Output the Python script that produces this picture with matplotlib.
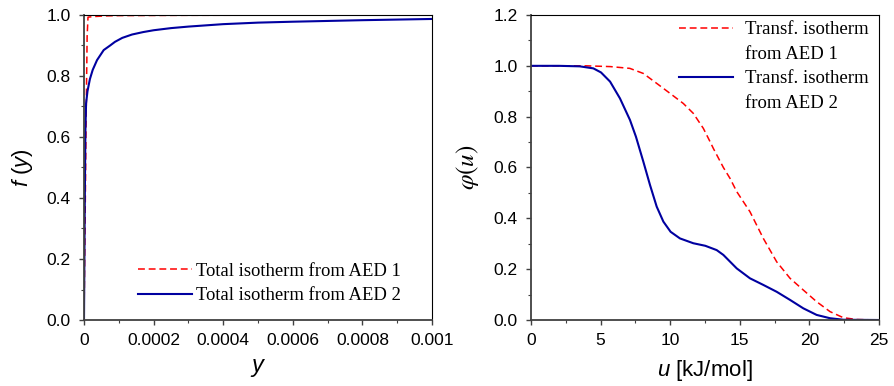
import matplotlib
matplotlib.use("Agg")
import matplotlib.pyplot as plt
from matplotlib.lines import Line2D
from matplotlib.ticker import MultipleLocator, FuncFormatter

plt.rcParams['font.family'] = ['Liberation Sans', 'DejaVu Sans']
plt.rcParams['mathtext.fontset'] = 'custom'
plt.rcParams['mathtext.it'] = 'Liberation Sans:italic'
plt.rcParams['mathtext.rm'] = 'Liberation Sans'

# left panel: total isotherms f(y)
y_aed1 = [0, 0.000003, 0.000006, 0.000009, 0.0000115, 0.00003, 0.00006, 0.0001, 0.0003, 0.001]
f_aed1 = [0, 0.30, 0.65, 0.93, 0.993, 0.995, 0.997, 0.998, 0.999, 1.0]

y_aed2 = [0, 0.000002, 0.000004, 0.000006, 0.00001, 0.000017, 0.000025, 0.0000374, 0.0000566,
          0.000075, 0.000089, 0.00011, 0.000138, 0.00017, 0.0002, 0.00025, 0.0003, 0.0004,
          0.0005, 0.0006, 0.0008, 0.001]
f_aed2 = [0, 0.35, 0.62, 0.71, 0.75, 0.79, 0.82, 0.852, 0.885,
          0.90, 0.912, 0.925, 0.936, 0.944, 0.950, 0.957, 0.962, 0.970,
          0.975, 0.978, 0.983, 0.987]

# right panel: transformed isotherms phi(u)
u_aed1 = [0, 2, 4, 5.7, 7.1, 8.07, 9.03, 9.98, 10.94, 11.66, 12.38, 12.86, 13.1, 13.82, 14.3,
          14.78, 15.73, 16.69, 17.65, 18.61, 19.56, 20.52, 21.48, 22.44, 23.4, 25]
phi_aed1 = [1.0, 1.0, 1.0, 0.997, 0.990, 0.970, 0.931, 0.892, 0.852, 0.813, 0.754, 0.702, 0.675,
            0.600, 0.557, 0.505, 0.426, 0.321, 0.229, 0.164, 0.118, 0.072, 0.033, 0.009, 0.002, 0.0]

u_aed2 = [0, 2, 3.5, 4.48, 5.03, 5.68, 6.39, 7.11, 7.54, 8.07, 8.55, 9.03, 9.51, 10.03, 10.7,
          11.66, 12.52, 13.34, 13.82, 14.78, 15.73, 16.69, 17.65, 18.61, 19.56, 20.52, 21.48,
          22.44, 25]
phi_aed2 = [1.0, 1.0, 0.998, 0.990, 0.974, 0.938, 0.872, 0.787, 0.721, 0.623, 0.531, 0.446, 0.387,
            0.347, 0.321, 0.302, 0.292, 0.275, 0.256, 0.203, 0.164, 0.138, 0.111, 0.079, 0.046,
            0.020, 0.007, 0.001, 0.0]

red = '#ff0000'
blue = '#0000a0'
dash = (0, (4.5, 2.5))

fig = plt.figure(figsize=(8.94, 3.86), dpi=100)
W, H = 894, 386
ax1 = fig.add_axes([84 / W, 1 - 320 / H, 348 / W, 305 / H])
ax2 = fig.add_axes([531 / W, 1 - 320 / H, 348 / W, 305 / H])

ax1.plot(y_aed1, f_aed1, color=red, ls=dash, lw=1.1, label='Total isotherm from AED 1')
ax1.plot(y_aed2, f_aed2, color=blue, lw=1.5, label='Total isotherm from AED 2')
ax1.set_xlim(0, 0.001)
ax1.set_ylim(0, 1.0)
ax1.xaxis.set_major_locator(MultipleLocator(0.0002))
ax1.xaxis.set_minor_locator(MultipleLocator(0.0001))
ax1.xaxis.set_major_formatter(FuncFormatter(lambda v, p: '%g' % round(v, 6)))
ax1.yaxis.set_major_locator(MultipleLocator(0.2))
ax1.yaxis.set_minor_locator(MultipleLocator(0.1))
ax1.yaxis.set_major_formatter(FuncFormatter(lambda v, p: '%.1f' % v))
ax1.set_xlabel(r'$y$', fontsize=17, va='center')
ax1.xaxis.set_label_coords(0.5, -0.157)
ax1.set_ylabel(r'$f\ (y)$', fontsize=16, va='center')
ax1.yaxis.set_label_coords(-0.178, 0.5)
leg1 = ax1.legend(loc='center left', bbox_to_anchor=(0.155, 0.12), frameon=False,
                  prop={'family': 'Liberation Serif', 'size': 13.4},
                  handlelength=2.9, handletextpad=0.2, borderaxespad=0, borderpad=0,
                  labelspacing=0.4)

ax2.plot(u_aed1, phi_aed1, color=red, ls=dash, lw=1.1)
ax2.plot(u_aed2, phi_aed2, color=blue, lw=1.5)
ax2.set_xlim(0, 25)
ax2.set_ylim(0, 1.2)
ax2.xaxis.set_major_locator(MultipleLocator(5))
ax2.xaxis.set_minor_locator(MultipleLocator(2.5))
ax2.yaxis.set_major_locator(MultipleLocator(0.2))
ax2.yaxis.set_minor_locator(MultipleLocator(0.1))
ax2.yaxis.set_major_formatter(FuncFormatter(lambda v, p: '%.1f' % v))
ax2.set_xlabel(r'$u$ [kJ/mol]', fontsize=16, va='center')
ax2.xaxis.set_label_coords(0.5, -0.164)
ax2.set_ylabel(r'$\varphi(u)$', fontsize=18, va='center', math_fontfamily='stix')
ax2.yaxis.set_label_coords(-0.182, 0.5)

# two-line legend entries, handle next to the first line
blank = Line2D([], [], color='none')
handles2 = [Line2D([], [], color=red, ls=dash, lw=1.1), blank,
            Line2D([], [], color=blue, lw=1.5), blank]
labels2 = ['Transf. isotherm', 'from AED 1', 'Transf. isotherm', 'from AED 2']
ax2.legend(handles2, labels2, loc='center left', bbox_to_anchor=(0.425, 0.831), frameon=False,
           prop={'family': 'Liberation Serif', 'size': 13.5},
           handlelength=2.9, handletextpad=0.6, borderaxespad=0, borderpad=0,
           labelspacing=0.4)

for ax in (ax1, ax2):
    ax.tick_params(which='both', direction='out', top=False, right=False, labelsize=12.5,
                   color='#404040')
    ax.tick_params(which='major', length=3.6, width=1.0, pad=6)
    ax.tick_params(which='minor', length=2.2, width=0.8)
    for side in ('left', 'bottom'):
        ax.spines[side].set_linewidth(1.3)
        ax.spines[side].set_color('#404040')
    for side in ('top', 'right'):
        ax.spines[side].set_linewidth(0.8)
        ax.spines[side].set_color('black')

fig.savefig('out.png', dpi=100)
